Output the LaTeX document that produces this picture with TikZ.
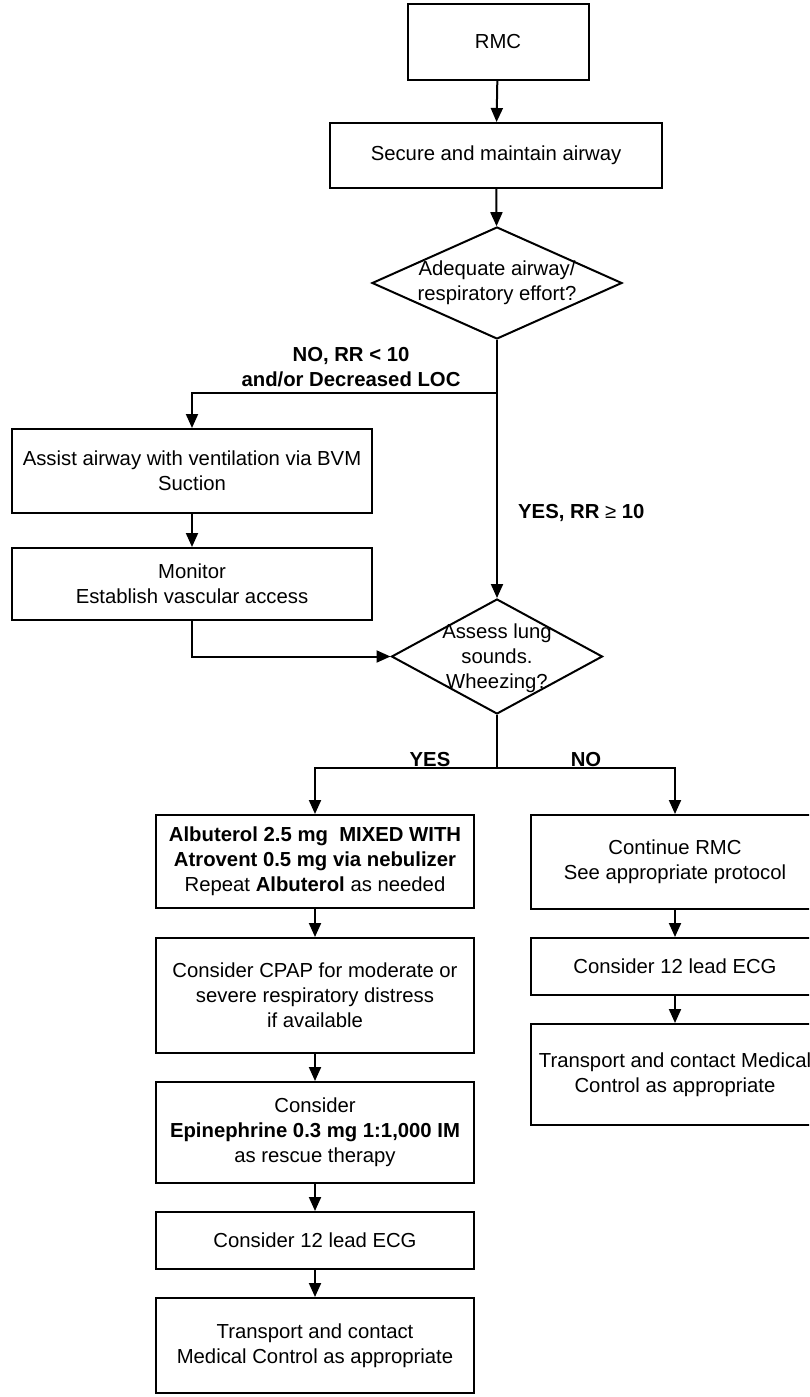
\documentclass[tikz,border=0pt]{standalone}
\usepackage{fontspec}
\setmainfont{Liberation Sans}
\usetikzlibrary{shapes.geometric,arrows.meta}
\newcommand{\chartfont}{\fontsize{20.3}{25}\selectfont}

\begin{document}
\begin{tikzpicture}[x=1pt, y=-1pt,
    box/.style={draw, line width=2pt, align=center, inner sep=0pt, font=\chartfont},
    decision/.style={diamond, draw, line width=2pt, inner sep=0pt},
    asktext/.style={align=center, inner sep=0pt, font=\chartfont},
    flow/.style={line width=2pt, -{Triangle[width=12pt,length=14pt]}},
    link/.style={line width=2pt},
    branch/.style={align=center, inner sep=0pt, font=\chartfont\bfseries}
]

% Page frame
\useasboundingbox (0,0) rectangle (809,1397);
\clip (0,0) rectangle (809,1397);
\fill[white] (0,0) rectangle (809,1397);

% 1. TOP OF THE CHART
\node[box, minimum width=181pt, minimum height=76pt] (rmc) at (498,42) {RMC};
\node[box, minimum width=332pt, minimum height=65pt] (secure) at (496,155.5) {Secure and maintain airway};
\node[decision, minimum width=250pt, minimum height=112pt] (ask1) at (497,283) {};
\node[asktext] (ask1txt) at (ask1) {Adequate airway/\\respiratory effort?};

% 2. NO BRANCH
\node[box, minimum width=360pt, minimum height=84pt] (assist) at (192,471) {Assist airway with ventilation via BVM\\Suction};
\node[box, minimum width=360pt, minimum height=72pt] (monitor) at (192,584) {Monitor\\Establish vascular access};

% 3. SECOND QUESTION
\node[decision, minimum width=211pt, minimum height=115pt] (ask2) at (497,656.5) {};
\node[asktext] (ask2txt) at ([yshift=-2pt]ask2) {Assess lung\\sounds.\\Wheezing?};

% 4. LEFT COLUMN (wheezing)
\node[box, minimum width=318pt, minimum height=93pt] (albut) at (315,861.5) {\textbf{Albuterol 2.5 mg\ \ MIXED WITH}\\\textbf{Atrovent 0.5 mg via nebulizer}\\Repeat \textbf{Albuterol} as needed};
\node[box, minimum width=318pt, minimum height=115pt] (cpap) at (315,995.5) {Consider CPAP for moderate or\\severe respiratory distress\\if available};
\node[box, minimum width=318pt, minimum height=101pt] (epi) at (315,1132.5) {Consider\\\textbf{Epinephrine 0.3 mg 1:1,000 IM}\\as rescue therapy};
\node[box, minimum width=318pt, minimum height=57pt] (ecgL) at (315,1240.5) {Consider 12 lead ECG};
\node[box, minimum width=318pt, minimum height=95pt] (transL) at (315,1345.5) {Transport and contact\\Medical Control as appropriate};

% 5. RIGHT COLUMN (no wheezing)
\node[box, minimum width=288pt, minimum height=94pt] (contR) at (675,862) {Continue RMC\\See appropriate protocol};
\node[box, minimum width=288pt, minimum height=57pt] (ecgR) at (675,966.5) {Consider 12 lead ECG};
\node[box, minimum width=288pt, minimum height=101pt] (transR) at (675,1074.5) {Transport and contact Medical\\Control as appropriate};

% Branch points
\coordinate (split1) at (497,393);
\coordinate (split2) at (497,768);

% 6. CONNECTORS
\draw[flow] (rmc) -- (secure);
\draw[flow] (secure) -- (ask1);
\draw[flow] (ask1.south) -- (ask2.north);
\draw[flow] (split1) -| (assist.north);
\draw[flow] (assist) -- (monitor);
\draw[flow] (monitor.south) |- (ask2.west);
\draw[link] (ask2.south) -- (split2);
\draw[flow] (split2) -| (albut.north);
\draw[flow] (split2) -| (contR.north);
\draw[flow] (albut) -- (cpap);
\draw[flow] (cpap) -- (epi);
\draw[flow] (epi) -- (ecgL);
\draw[flow] (ecgL) -- (transL);
\draw[flow] (contR) -- (ecgR);
\draw[flow] (ecgR) -- (transR);

% 7. BRANCH LABELS
\node[branch] (nolbl) at (351,367.5) {NO, RR < 10\\and/or Decreased LOC};
\node[branch, anchor=west] (yeslbl) at (518,513) {YES, RR {\mdseries ≥} 10};
\node[branch] (yes2) at (430,760) {YES};
\node[branch] (no2) at (586,760) {NO};

\end{tikzpicture}
\end{document}
